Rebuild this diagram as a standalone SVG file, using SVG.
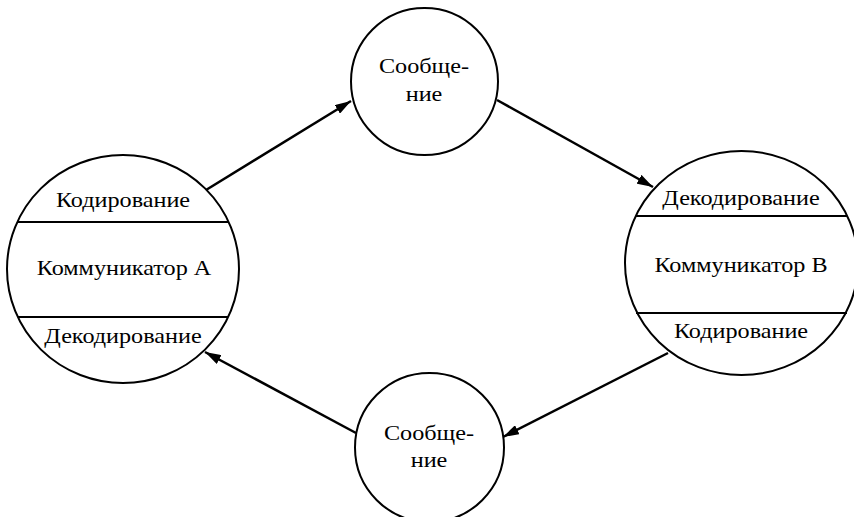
<svg xmlns="http://www.w3.org/2000/svg" width="854" height="517" viewBox="0 0 854 517">
<defs>
<marker id="arr" viewBox="0 0 16 10" refX="16" refY="5" markerWidth="16" markerHeight="10" markerUnits="userSpaceOnUse" orient="auto">
<path d="M0,0 L16,5 L0,10 Z" fill="#000"/>
</marker>
<style>
.shape{fill:#fff;stroke:#000;stroke-width:2}
.div{stroke:#000;stroke-width:2}
.t{font-family:"Liberation Serif","Times New Roman",serif;font-size:22px;fill:#000;text-anchor:middle}
.c{stroke:#000;stroke-width:2.5;fill:none;marker-end:url(#arr)}
</style>
</defs>
<rect width="854" height="517" fill="#fff"/>
<g id="connectors">
<line class="c" x1="206" y1="190" x2="351" y2="101"/>
<line class="c" x1="497" y1="100" x2="653" y2="187"/>
<line class="c" x1="668" y1="353" x2="503" y2="437"/>
<line class="c" x1="356" y1="433" x2="205" y2="352"/>
</g>
<g id="communicatorA">
<ellipse class="shape" cx="123" cy="269" rx="116" ry="114"/>
<line class="div" x1="18" y1="222" x2="228" y2="222"/>
<line class="div" x1="18" y1="317" x2="228" y2="317"/>
<text class="t" transform="translate(123,207) scale(1.1,1)">Кодирование</text>
<text class="t" transform="translate(124,275) scale(1.1,1)">Коммуникатор А</text>
<text class="t" transform="translate(123,343) scale(1.1,1)">Декодирование</text>
</g>
<g id="communicatorB">
<ellipse class="shape" cx="741.5" cy="263" rx="116.5" ry="112"/>
<line class="div" x1="636" y1="216" x2="847" y2="216"/>
<line class="div" x1="636" y1="313" x2="847" y2="313"/>
<text class="t" transform="translate(741,205) scale(1.1,1)">Декодирование</text>
<text class="t" transform="translate(741,272) scale(1.1,1)">Коммуникатор В</text>
<text class="t" transform="translate(741,338) scale(1.1,1)">Кодирование</text>
</g>
<g id="messageTop">
<ellipse class="shape" cx="424.5" cy="81.5" rx="73.5" ry="73.5"/>
<text class="t" transform="translate(424,73) scale(1.1,1)">Сообще-</text>
<text class="t" transform="translate(424,101) scale(1.1,1)">ние</text>
</g>
<g id="messageBottom">
<ellipse class="shape" cx="429.5" cy="447.5" rx="74.5" ry="74.5"/>
<text class="t" transform="translate(429,440) scale(1.1,1)">Сообще-</text>
<text class="t" transform="translate(429,467) scale(1.1,1)">ние</text>
</g>
</svg>
